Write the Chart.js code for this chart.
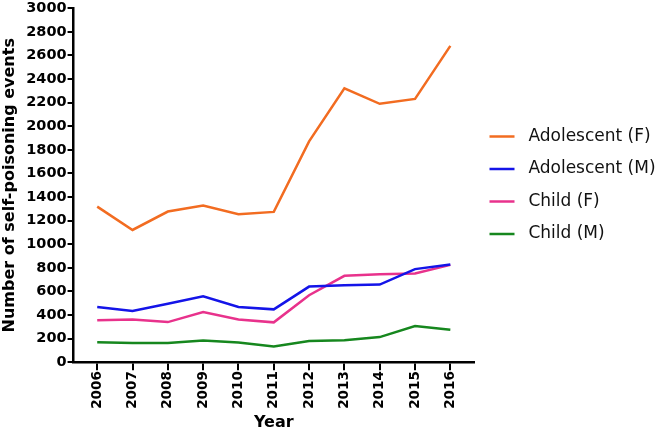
<!DOCTYPE html>
<html>
<head>
<meta charset="utf-8">
<script src="https://cdn.jsdelivr.net/npm/chart.js@4"></script>
<style>
  body { margin: 0; background: #fff; }
</style>
</head>
<body>
<canvas id="poisonChart" width="659" height="432"></canvas>
<script>
const years = [2006, 2007, 2008, 2009, 2010, 2011, 2012, 2013, 2014, 2015, 2016];
const adolescentF = [1319, 1121, 1277, 1328, 1254, 1274, 1872, 2321, 2190, 2232, 2681];
const adolescentM = [468, 434, 496, 559, 468, 448, 641, 653, 658, 789, 828];
const childF = [355, 363, 340, 425, 363, 338, 568, 732, 746, 752, 825];
const childM = [170, 164, 164, 184, 167, 133, 179, 187, 213, 306, 275];
const seriesNames = ['Adolescent (F)', 'Adolescent (M)', 'Child (F)', 'Child (M)'];
const yTicks = [0, 200, 400, 600, 800, 1000, 1200, 1400, 1600, 1800, 2000, 2200, 2400, 2600, 2800, 3000];

const COLORS = {
    orange: 'rgb(242, 108, 33)',
    blue: 'rgb(20, 20, 232)',
    pink: 'rgb(232, 50, 140)',
    green: 'rgb(22, 135, 30)'
};

Chart.defaults.font.family = "'DejaVu Sans', sans-serif";
Chart.defaults.color = '#000';

function points(values) {
    return values.map((v, i) => ({ x: years[i], y: v }));
}

function line(label, values, color) {
    return {
        label: label,
        data: points(values),
        borderColor: color,
        backgroundColor: color,
        borderWidth: 2.5,
        pointRadius: 0,
        fill: false,
        tension: 0
    };
}

const config = {
    type: 'line',
    data: {
        datasets: [
            line(seriesNames[0], adolescentF, COLORS.orange),
            line(seriesNames[1], adolescentM, COLORS.blue),
            line(seriesNames[2], childF, COLORS.pink),
            line(seriesNames[3], childM, COLORS.green)
        ]
    },
    options: {
        responsive: false,
        animation: false,
        devicePixelRatio: 1,
        layout: { padding: 0 },
        plugins: {
            tooltip: { enabled: false },
            legend: {
                position: 'right',
                fullSize: false,
                maxWidth: 185,
                labels: {
                    usePointStyle: true,
                    pointStyle: 'line',
                    pointStyleWidth: 25,
                    padding: 15.5,
                    color: '#111',
                    font: { size: 17 },
                    generateLabels: function (chart) {
                        // small gap between line and text, like the original
                        return Chart.defaults.plugins.legend.labels.generateLabels(chart).map(item => {
                            item.text = ' ' + item.text;
                            return item;
                        });
                    }
                }
            }
        },
        scales: {
            x: {
                type: 'linear',
                min: 2005.33,
                max: 2016.67,
                afterBuildTicks: axis => { axis.ticks = years.map(v => ({ value: v })); },
                border: { color: '#000', width: 2.5 },
                grid: { drawOnChartArea: false, color: '#000', lineWidth: 2, tickLength: 8 },
                ticks: {
                    autoSkip: false,
                    maxRotation: 90,
                    minRotation: 90,
                    padding: 1,
                    font: { size: 13.5, weight: 'bold' },
                    callback: v => String(v)
                },
                title: {
                    display: true,
                    text: 'Year',
                    font: { size: 16, weight: 'bold' },
                    padding: { top: 3, bottom: 0 }
                }
            },
            y: {
                min: 0,
                max: 3000,
                afterBuildTicks: axis => { axis.ticks = yTicks.map(v => ({ value: v })); },
                border: { color: '#000', width: 2.5 },
                grid: { drawOnChartArea: false, color: '#000', lineWidth: 2, tickLength: 6 },
                ticks: {
                    padding: 1,
                    font: { size: 14.5, weight: 'bold', lineHeight: 1 },
                    callback: v => String(v)
                },
                title: {
                    display: true,
                    text: 'Number of self-poisoning events',
                    font: { size: 16, weight: 'bold' },
                    padding: { top: 0, bottom: 6 }
                }
            }
        }
    }
};

const ctx = document.getElementById('poisonChart').getContext('2d');
const myChart = new Chart(ctx, config);
</script>
</body>
</html>
